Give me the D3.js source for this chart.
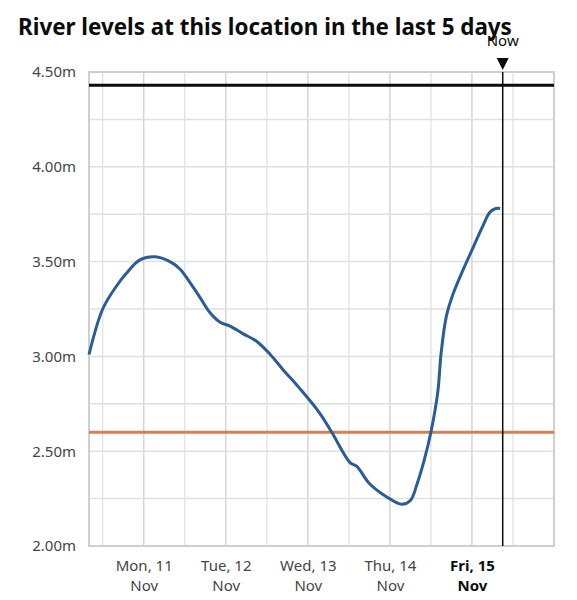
<!DOCTYPE html>
<html>
<head>
<meta charset="utf-8">
<script src="https://cdn.jsdelivr.net/npm/d3@7"></script>
<style>
  body { margin: 0; background: #fff; }
  text { font-family: "Noto Sans", Arial, sans-serif; }
</style>
</head>
<body>
<div id="chart"></div>
<script>
// readings, every few hours
var times = [
  "2024-11-10T08:00", "2024-11-10T12:00", "2024-11-10T16:00", "2024-11-10T19:00",
  "2024-11-10T23:00", "2024-11-11T03:20", "2024-11-11T07:40", "2024-11-11T10:40",
  "2024-11-11T13:30", "2024-11-11T16:30", "2024-11-11T19:25", "2024-11-11T22:20",
  "2024-11-12T01:15", "2024-11-12T05:00", "2024-11-12T09:00", "2024-11-12T13:00",
  "2024-11-12T16:45", "2024-11-12T21:40", "2024-11-13T03:30", "2024-11-13T07:00",
  "2024-11-13T12:20", "2024-11-13T14:20", "2024-11-13T18:00", "2024-11-13T23:00",
  "2024-11-14T03:30", "2024-11-14T06:00", "2024-11-14T08:00", "2024-11-14T10:00",
  "2024-11-14T12:00", "2024-11-14T14:00", "2024-11-14T15:00", "2024-11-14T16:30",
  "2024-11-14T18:30", "2024-11-14T21:30", "2024-11-15T00:00", "2024-11-15T03:00",
  "2024-11-15T05:15", "2024-11-15T07:00", "2024-11-15T08:15"
];
var levels = [
  3.01, 3.25, 3.37, 3.44,
  3.51, 3.525, 3.50, 3.46,
  3.39, 3.31, 3.23, 3.18,
  3.16, 3.12, 3.08, 3.01,
  2.93, 2.83, 2.70, 2.60,
  2.44, 2.42, 2.33, 2.26,
  2.22, 2.24, 2.33, 2.45,
  2.60, 2.81, 3.02, 3.21,
  3.33, 3.46, 3.56, 3.68,
  3.76, 3.78, 3.78
];

var highestLevel = 4.43;
var typicalHigh = 2.60;
var nowTime = "2024-11-15T09:00";

var dayTicks = ["2024-11-11", "2024-11-12", "2024-11-13", "2024-11-14", "2024-11-15"];
var dayLabels = [["Mon, 11", "Nov"], ["Tue, 12", "Nov"], ["Wed, 13", "Nov"], ["Thu, 14", "Nov"], ["Fri, 15", "Nov"]];
var levelTicks = [2.00, 2.50, 3.00, 3.50, 4.00, 4.50];

var parseT = d3.timeParse("%Y-%m-%dT%H:%M");
var parseD = d3.timeParse("%Y-%m-%d");

var W = 577, H = 600;
var margin = {top: 72, right: 23, bottom: 54, left: 89};
var width = W - margin.left - margin.right,
    height = H - margin.top - margin.bottom;

var svg = d3.select("#chart").append("svg")
  .attr("width", W).attr("height", H);

svg.append("text")
  .attr("x", 18).attr("y", 35)
  .style("font-size", "22.4px").style("font-weight", "bold")
  .style("fill", "#0b0c0c")
  .text("River levels at this location in the last 5 days");

var g = svg.append("g").attr("transform", "translate(" + margin.left + "," + margin.top + ")");

var x = d3.scaleTime()
  .domain([parseT("2024-11-10T08:00"), parseT("2024-11-16T00:00")])
  .range([0, width]);
var y = d3.scaleLinear().domain([2, 4.5]).range([height, 0]);

// grid, 12h and 0.25m
var halfDays = d3.timeHour.every(12).range(x.domain()[0], x.domain()[1]);
g.append("g").selectAll("line").data(halfDays).enter().append("line")
  .attr("x1", function(d) { return x(d); }).attr("x2", function(d) { return x(d); })
  .attr("y1", 0).attr("y2", height)
  .style("stroke", function(d) { return d.getHours() === 0 ? "#d6d6d6" : "#e6e6e6"; })
  .style("stroke-width", 1.5);

g.append("g").selectAll("line").data(d3.range(2, 4.51, 0.25)).enter().append("line")
  .attr("x1", 0).attr("x2", width)
  .attr("y1", function(d) { return y(d); }).attr("y2", function(d) { return y(d); })
  .style("stroke", "#e0e0e0")
  .style("stroke-width", 1.5);

g.append("rect")
  .attr("width", width).attr("height", height)
  .style("fill", "none").style("stroke", "#cfcfcf").style("stroke-width", 2);

// y labels
var yAxis = g.append("g")
  .attr("transform", "translate(-10,0)")
  .call(d3.axisLeft(y).tickValues(levelTicks).tickSize(0).tickFormat(function(d) { return d3.format(".2f")(d) + "m"; }));
yAxis.select(".domain").remove();
yAxis.selectAll("text")
  .style("font-size", "15px").style("fill", "#454545")
  .style("font-family", "'Noto Sans', Arial, sans-serif");

// x labels, two lines
var xAxis = g.append("g")
  .attr("transform", "translate(0," + height + ")")
  .call(d3.axisBottom(x).tickValues(dayTicks.map(parseD)).tickSize(0).tickFormat(""));
xAxis.select(".domain").remove();
xAxis.selectAll(".tick text").each(function(d, i) {
  var t = d3.select(this)
    .attr("y", 0).attr("dy", null)
    .style("font-size", "15px")
    .style("font-family", "'Noto Sans', Arial, sans-serif")
    .style("fill", i === dayTicks.length - 1 ? "#0b0c0c" : "#454545")
    .style("font-weight", i === dayTicks.length - 1 ? "bold" : "normal");
  t.append("tspan").attr("x", 0).attr("y", 25).text(dayLabels[i][0]);
  t.append("tspan").attr("x", 0).attr("y", 45).text(dayLabels[i][1]);
});

// threshold lines
g.append("line")
  .attr("x1", 0).attr("x2", width)
  .attr("y1", y(typicalHigh)).attr("y2", y(typicalHigh))
  .style("stroke", "#e07b4d").style("stroke-width", 3);

g.append("line")
  .attr("x1", 0).attr("x2", width)
  .attr("y1", y(highestLevel)).attr("y2", y(highestLevel))
  .style("stroke", "#0b0c0c").style("stroke-width", 3);

// level line
var data = times.map(function(t, i) { return {t: parseT(t), v: levels[i]}; });
var line = d3.line()
  .x(function(d) { return x(d.t); })
  .y(function(d) { return y(d.v); })
  .curve(d3.curveCatmullRom.alpha(0.5));

g.append("path")
  .attr("d", line(data))
  .style("fill", "none")
  .style("stroke", "#2b5c96")
  .style("stroke-width", 3)
  .style("stroke-linejoin", "round");

// now marker
var nx = x(parseT(nowTime));
g.append("line")
  .attr("x1", nx).attr("x2", nx).attr("y1", 0).attr("y2", height)
  .style("stroke", "#0b0c0c").style("stroke-width", 1.5);
g.append("path")
  .attr("d", "M" + (nx - 6) + ",-14L" + (nx + 6) + ",-14L" + nx + ",-2Z")
  .style("fill", "#0b0c0c");
g.append("text")
  .attr("x", nx).attr("y", -26)
  .attr("text-anchor", "middle")
  .style("font-size", "15px").style("fill", "#0b0c0c")
  .text("Now");
</script>
</body>
</html>
